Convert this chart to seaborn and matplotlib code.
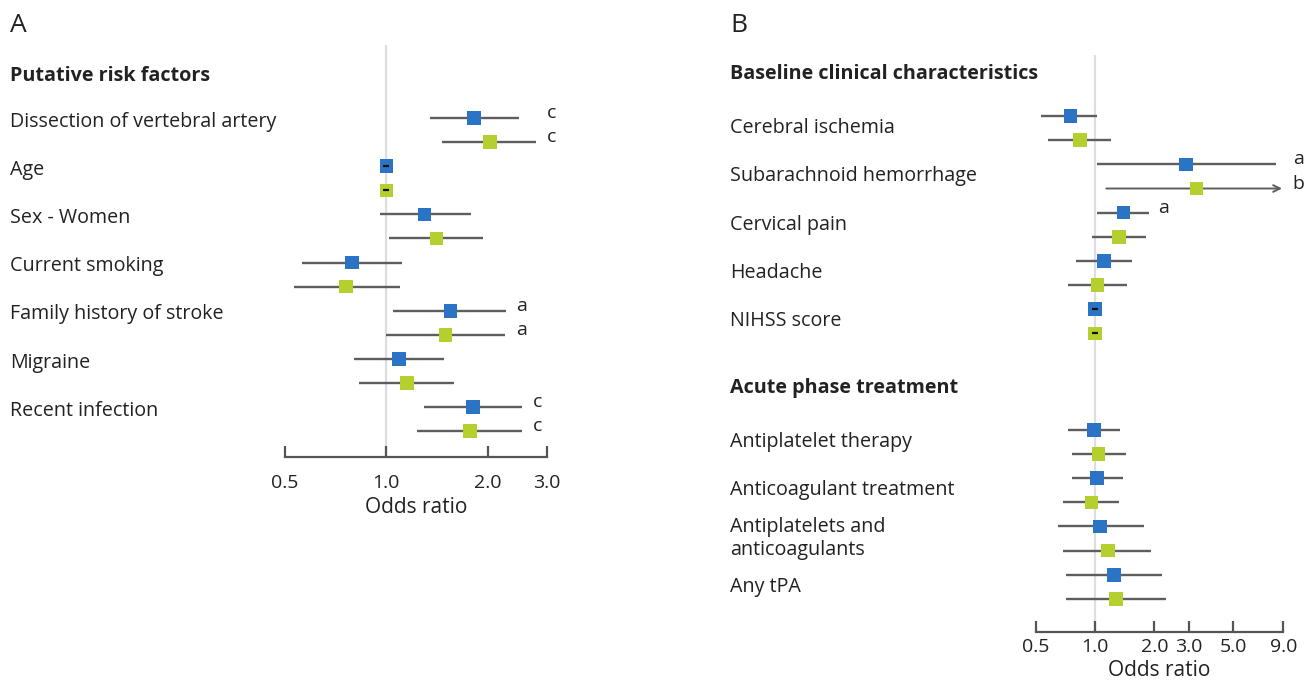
import numpy as np
import pandas as pd
import matplotlib
matplotlib.use("Agg")
import matplotlib.pyplot as plt
import matplotlib.transforms as mtransforms
import seaborn as sns

# ---------------- data ----------------
# Panel A
a_header = "Putative risk factors"
a_categories = ["Dissection of vertebral artery", "Age", "Sex - Women", "Current smoking",
                "Family history of stroke", "Migraine", "Recent infection"]
a_blue_or = [1.82, 1.00, 1.30, 0.79, 1.55, 1.09, 1.81]
a_blue_lo = [1.35, 0.99, 0.96, 0.56, 1.05, 0.80, 1.29]
a_blue_hi = [2.47, 1.01, 1.78, 1.11, 2.27, 1.48, 2.53]
a_green_or = [2.03, 1.00, 1.41, 0.76, 1.50, 1.15, 1.77]
a_green_lo = [1.46, 0.99, 1.02, 0.53, 1.00, 0.83, 1.23]
a_green_hi = [2.79, 1.01, 1.94, 1.10, 2.25, 1.59, 2.53]
a_blue_note = ["c", "", "", "", "a", "", "c"]
a_green_note = ["c", "", "", "", "a", "", "c"]
a_ticks = [0.5, 1.0, 2.0, 3.0]
a_ticklabels = ["0.5", "1.0", "2.0", "3.0"]

# Panel B
b_headers = ["Baseline clinical characteristics", "Acute phase treatment"]
b_categories = [
    ["Cerebral ischemia", "Subarachnoid hemorrhage", "Cervical pain", "Headache", "NIHSS score"],
    ["Antiplatelet therapy", "Anticoagulant treatment", "Antiplatelets and\nanticoagulants", "Any tPA"],
]
b_blue_or = [0.75, 2.89, 1.39, 1.11, 1.00, 0.99, 1.02, 1.06, 1.25]
b_blue_lo = [0.53, 1.02, 1.02, 0.80, 0.98, 0.73, 0.76, 0.65, 0.71]
b_blue_hi = [1.02, 8.26, 1.87, 1.53, 1.02, 1.34, 1.38, 1.76, 2.19]
b_green_or = [0.84, 3.26, 1.32, 1.03, 1.00, 1.04, 0.96, 1.16, 1.28]
b_green_lo = [0.58, 1.14, 0.96, 0.73, 0.98, 0.76, 0.69, 0.69, 0.71]
b_green_hi = [1.20, np.inf, 1.82, 1.45, 1.02, 1.44, 1.32, 1.91, 2.28]
b_blue_note = ["", "a", "a", "", "", "", "", "", ""]
b_green_note = ["", "b", "", "", "", "", "", "", ""]
b_ticks = [0.5, 1.0, 2.0, 3.0, 5.0, 9.0]
b_ticklabels = ["0.5", "1.0", "2.0", "3.0", "5.0", "9.0"]

palette = {"blue": "#2b74c5", "green": "#b5cf2f"}

# ---------------- style ----------------
sns.set_theme(style="white")
plt.rcParams["font.family"] = ["Open Sans", "DejaVu Sans"]
TEXT = "#222222"
LINE = "#5e5e5e"
SPINE = "#555555"
LABEL_FS = 14.2

fig = plt.figure(figsize=(13.07, 6.83), dpi=100)
W, H = 1307, 683


def build_df(ors_b, lo_b, hi_b, ors_g, lo_g, hi_g, rows):
    recs = []
    for i, r in enumerate(rows):
        recs.append(dict(series="blue", row=r, OR=ors_b[i], lo=lo_b[i], hi=hi_b[i]))
        recs.append(dict(series="green", row=r + 1, OR=ors_g[i], lo=lo_g[i], hi=hi_g[i]))
    return pd.DataFrame(recs)


def draw_panel(ax, df, xlim, ticks, ticklabels, tickpad, labelpad, notes_b, notes_g, rows):
    ax.set_xscale("log")
    ax.axvline(1.0, color="#dedede", lw=1.6, zorder=0)
    xmax = xlim[1]
    finite = df[np.isfinite(df.hi)]
    ax.hlines(finite.row, finite.lo, finite.hi, color=LINE, lw=1.7, zorder=2)
    for _, r in df[~np.isfinite(df.hi)].iterrows():
        ax.annotate("", xy=(xmax * 0.985, r.row), xytext=(r.lo, r.row),
                    arrowprops=dict(arrowstyle="->", color=LINE, lw=1.4,
                                    shrinkA=0, shrinkB=0), zorder=2)
    sns.scatterplot(data=df, x="OR", y="row", hue="series", palette=palette,
                    marker="s", s=95, linewidth=0, legend=False, ax=ax, zorder=3)
    narrow = df[(df.hi / df.lo) < 1.06]
    ax.scatter(narrow.OR, narrow.row, marker="_", s=22, color="#111111", lw=1.6, zorder=4)
    # annotations
    for i, r in enumerate(rows):
        his = [min(h, xmax) for h in df[df.row.isin([r, r + 1])].hi]
        xn = max(his)
        for note, rr in ((notes_b[i], r), (notes_g[i], r + 1)):
            if note:
                ax.annotate(note, xy=(xn, rr), xytext=(15, 5), textcoords="offset pixels",
                            ha="center", va="center", fontsize=14, color=TEXT,
                            annotation_clip=False)
    ax.set_xlim(*xlim)
    ax.set_xticks(ticks)
    ax.set_xticklabels(ticklabels)
    ax.xaxis.set_minor_locator(matplotlib.ticker.NullLocator())
    ax.set_yticks([])
    ax.set_xlabel("Odds ratio", fontsize=15, color=TEXT, labelpad=labelpad)
    ax.set_ylabel("")
    for s in ["top", "right", "left"]:
        ax.spines[s].set_visible(False)
    ax.spines["bottom"].set_color(SPINE)
    ax.spines["bottom"].set_linewidth(1.6)
    ax.tick_params(axis="x", direction="in", length=8, width=1.6, color=SPINE,
                   labelsize=14, labelcolor=TEXT, pad=tickpad, bottom=True)
    ax.set_facecolor("none")


# ---------------- Panel A ----------------
axA = fig.add_axes([285 / W, 1 - 457 / H, 262 / W, (457 - 45) / H])
rowsA = [2 * i for i in range(len(a_categories))]
dfA = build_df(a_blue_or, a_blue_lo, a_blue_hi, a_green_or, a_green_lo, a_green_hi, rowsA)
draw_panel(axA, dfA, (0.5, 3.0), a_ticks, a_ticklabels, 12, 4, a_blue_note, a_green_note, rowsA)
axA.set_ylim(14.07, -3.03)
trA = mtransforms.blended_transform_factory(fig.transFigure, axA.transData)
axA.text(10 / W, -1.75, a_header, transform=trA, fontsize=LABEL_FS, fontweight="bold",
         color=TEXT, va="center", ha="left")
for i, c in enumerate(a_categories):
    axA.text(10 / W, rowsA[i] + 0.15, c, transform=trA, fontsize=LABEL_FS, color=TEXT,
             va="center", ha="left")

# ---------------- Panel B ----------------
axB = fig.add_axes([1035.7 / W, 1 - 632 / H, (1283.3 - 1035.7) / W, (632 - 55) / H])
rowsB = []
header_rows = []
pos = 0
for g, cats in enumerate(b_categories):
    header_rows.append(pos - 1.75)
    for c in cats:
        rowsB.append(pos)
        pos += 2
    pos += 3
dfB = build_df(b_blue_or, b_blue_lo, b_blue_hi, b_green_or, b_green_lo, b_green_hi, rowsB)
draw_panel(axB, dfB, (0.5, 9.0), b_ticks, b_ticklabels, 4, 3, b_blue_note, b_green_note, rowsB)
axB.set_ylim(21.37, -2.53)
trB = mtransforms.blended_transform_factory(fig.transFigure, axB.transData)
flat_b = [c for cats in b_categories for c in cats]
for g, h in enumerate(b_headers):
    axB.text(730 / W, header_rows[g], h, transform=trB, fontsize=LABEL_FS, fontweight="bold",
             color=TEXT, va="center", ha="left")
for i, c in enumerate(flat_b):
    axB.text(730 / W, rowsB[i] + 0.5, c, transform=trB, fontsize=LABEL_FS, color=TEXT,
             va="center", ha="left", linespacing=1.2)

# panel letters
fig.text(10 / W, 1 - 26 / H, "A", fontsize=19, color=TEXT, va="center", ha="left")
fig.text(730 / W, 1 - 26 / H, "B", fontsize=19, color=TEXT, va="center", ha="left")

fig.savefig("out.png", dpi=100, facecolor="white")
